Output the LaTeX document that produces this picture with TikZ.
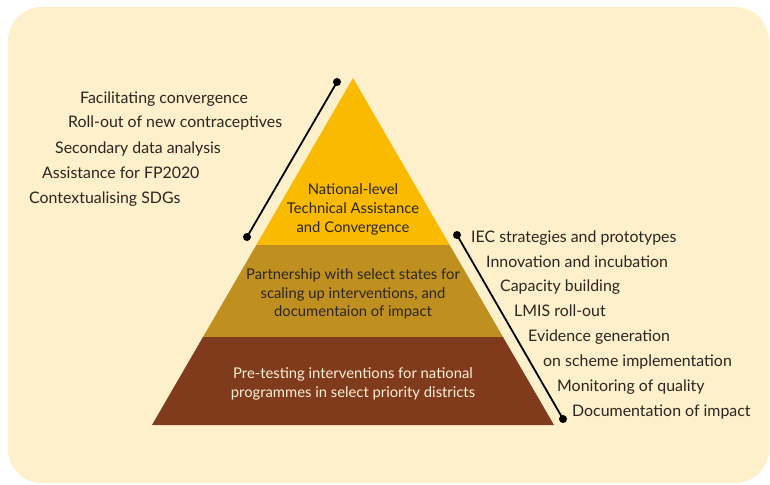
\documentclass[tikz,border=0pt]{standalone}
\usepackage{fontspec}
\setmainfont{Lato}
\definecolor{panel}{HTML}{FEF0CA}
\definecolor{tiertop}{HTML}{FABA00}
\definecolor{tiermid}{HTML}{BF901F}
\definecolor{tierbase}{HTML}{803B1C}
\definecolor{ink}{HTML}{2A2622}
\definecolor{lightink}{HTML}{FDEFD6}
\begin{document}
\begin{tikzpicture}[x=1pt,y=-1pt,
  label/.style={anchor=base west,inner sep=0pt,text=ink,font=\fontsize{15.9}{19}\selectfont},
  tiertext/.style={align=center,inner sep=0pt,text=ink,font=\fontsize{14.8}{18.8}\selectfont},
  bracket/.style={draw=black,line width=1.8pt},
  dot/.style={circle,fill=black,inner sep=0pt,minimum size=8pt}]
\useasboundingbox (0,0) rectangle (770,484);
% panel
\fill[panel,rounded corners=34pt] (8,7) rectangle (769,483);
% pyramid tiers
\fill[tiertop] (353,78) -- (449.7,245) -- (256.3,245) -- cycle;
\fill[tiermid] (256.3,245) -- (449.7,245) -- (503,337) -- (203,337) -- cycle;
\fill[tierbase] (203,337) -- (503,337) -- (554,425) -- (152,425) -- cycle;
% tier captions
\node[tiertext] (t1) at (353,209.5) {National-level\\Technical Assistance\\and Convergence};
\node[tiertext] (t2) at (353,294) {Partnership with select states for\\scaling up interventions, and\\documentaion of impact};
\node[tiertext,text=lightink] (t3) at (353,384) {Pre-testing interventions for national\\programmes in select priority districts};
% brackets
\coordinate (la) at (337,82);
\coordinate (lb) at (247,237);
\coordinate (ra) at (457,235);
\coordinate (rb) at (563,419);
\draw[bracket] (la) -- (lb);
\draw[bracket] (ra) -- (rb);
\node[dot] (lad) at (la) {};
\node[dot] (lbd) at (lb) {};
\node[dot] (rad) at (ra) {};
\node[dot] (rbd) at (rb) {};
% national-level activities
\node[label] (l1) at (80,103) {Facilitating convergence};
\node[label] (l2) at (68,128) {Roll-out of new contraceptives};
\node[label] (l3) at (55,153) {Secondary data analysis};
\node[label] (l4) at (42,178) {Assistance for FP2020};
\node[label] (l5) at (29,203) {Contextualising SDGs};
% state and district activities
\node[label] (r1) at (471,242) {IEC strategies and prototypes};
\node[label] (r2) at (486,267) {Innovation and incubation};
\node[label] (r3) at (500,291) {Capacity building};
\node[label] (r4) at (514,316) {LMIS roll-out};
\node[label] (r5) at (528,341) {Evidence generation};
\node[label] (r6) at (543,366) {on scheme implementation};
\node[label] (r7) at (557,391) {Monitoring of quality};
\node[label] (r8) at (572,416) {Documentation of impact};
\end{tikzpicture}
\end{document}
